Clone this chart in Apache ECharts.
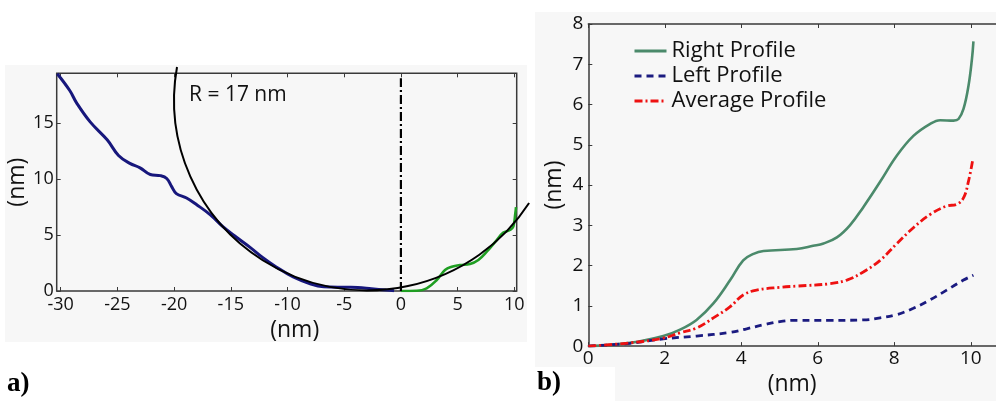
<!DOCTYPE html>
<html>
<head>
<meta charset="utf-8">
<script src="https://cdn.jsdelivr.net/npm/echarts@6/dist/echarts.min.js"></script>
<style>
  html, body { margin: 0; padding: 0; background: #ffffff; }
  #chart { width: 996px; height: 401px; }
</style>
</head>
<body>
<div id="chart"></div>
<script>
// ---- Panel a: tip cross-section, both flanks (nm) ----
const tipLeftA = [
  [-30.3, 19.4], [-29.2, 17.9], [-28.6, 16.8], [-27.4, 15.1], [-25.9, 13.5],
  [-24.9, 12.1], [-23.9, 11.4], [-23.0, 11.0], [-22.1, 10.4], [-21.2, 10.3],
  [-20.65, 10.05], [-20.2, 9.3], [-19.8, 8.7], [-18.9, 8.3], [-18.0, 7.7],
  [-16.8, 6.8], [-15.7, 5.75], [-14.5, 4.8], [-13.3, 3.9], [-12.2, 3.0],
  [-11.0, 2.15], [-9.5, 1.25], [-8.0, 0.65], [-6.8, 0.38], [-5.0, 0.33],
  [-3.8, 0.32], [-2.6, 0.2], [-1.3, 0.08], [-0.6, 0.03]
];
const tipRightA = [
  [0, 0], [1.4, 0.02], [2.27, 0.24], [3.16, 0.98], [3.89, 1.88], [4.48, 2.17],
  [5.21, 2.32], [6.09, 2.41], [6.83, 2.77], [7.57, 3.51], [8.45, 4.55],
  [9.03, 5.21], [9.62, 5.45], [9.91, 5.74], [10.09, 6.94], [10.15, 7.5]
];
const apexLine = [[0, 0], [0, 19.0]];
const fitCenter = [-3.0, 17.05];
const fitRadius = 17;
const xTicksA = [-30, -25, -20, -15, -10, -5, 0, 5, 10];
const yTicksA = [0, 5, 10, 15];

// ---- Panel b: flank profiles measured from the apex (nm) ----
const profileNames = ['Right Profile', 'Left Profile', 'Average Profile'];
const rightProfile = [
  [0, 0], [1.09, 0.08], [1.96, 0.25], [2.4, 0.41], [2.83, 0.65], [3.27, 1.06],
  [3.71, 1.64], [4.05, 2.13], [4.32, 2.29], [4.58, 2.36], [5.45, 2.41],
  [5.88, 2.49], [6.15, 2.55], [6.5, 2.7], [6.84, 3.0], [7.19, 3.45],
  [7.63, 4.08], [8.06, 4.72], [8.5, 5.22], [8.94, 5.52], [9.2, 5.61],
  [9.55, 5.6], [9.68, 5.64], [9.81, 5.89], [9.94, 6.46], [10.03, 7.12], [10.07, 7.57]
];
const leftProfile = [
  [0, 0], [1.09, 0.07], [1.96, 0.18], [2.83, 0.25], [3.71, 0.34], [4.14, 0.43],
  [4.58, 0.53], [5.01, 0.61], [5.45, 0.64], [6.32, 0.64], [7.19, 0.65],
  [7.63, 0.7], [8.06, 0.78], [8.5, 0.94], [8.94, 1.15], [9.37, 1.39],
  [9.81, 1.64], [10.07, 1.76]
];
const averageProfile = [
  [0, 0], [1.09, 0.08], [1.96, 0.2], [2.4, 0.33], [2.83, 0.45], [3.27, 0.7],
  [3.71, 0.98], [4.05, 1.27], [4.4, 1.39], [5.01, 1.46], [5.45, 1.49],
  [6.32, 1.55], [6.76, 1.64], [7.19, 1.84], [7.63, 2.13], [8.06, 2.54],
  [8.5, 2.94], [8.94, 3.27], [9.37, 3.48], [9.63, 3.52], [9.81, 3.68],
  [9.94, 4.09], [10.05, 4.62]
];
const xTicksB = [0, 2, 4, 6, 8, 10];
const yTicksB = [0, 1, 2, 3, 4, 5, 6, 7, 8];

// ---- styling ----
const FONT = 'Open Sans';
const frameColor = '#3a3a3a';
const textColor = '#111111';
// visible part of the fitted circle (screen angles, radians)
const arcStart = 0.571;
const arcEnd = 3.316;
const SMOOTH = 0.4;

function tickAxis(gridIndex, position, min, max, ticks, withLabels, labelSize, labelMargin, showLine) {
  return {
    type: 'value',
    gridIndex: gridIndex,
    position: position,
    min: min,
    max: max,
    axisLine: { show: !!showLine, onZero: false, lineStyle: { color: frameColor, width: 1.5 } },
    splitLine: { show: false },
    axisTick: {
      show: true, inside: true, length: 4, customValues: ticks,
      lineStyle: { color: frameColor, width: 1 }
    },
    axisLabel: {
      show: withLabels, customValues: ticks, margin: labelMargin,
      fontFamily: FONT, fontSize: labelSize, color: textColor
    }
  };
}

const xA = tickAxis(0, 'bottom', -30.35, 10.21, xTicksA, true, 18, 5, false);
Object.assign(xA, {
  name: '(nm)', nameLocation: 'middle', nameGap: 26,
  nameTextStyle: { fontFamily: FONT, fontSize: 23, color: textColor, padding: [0, 0, 0, 16] }
});
const xAtop = tickAxis(0, 'top', -30.35, 10.21, xTicksA, false, 18, 5, false);
const yA = tickAxis(0, 'left', 0, 19.44, yTicksA, true, 18, 3, false);
Object.assign(yA, {
  name: '(nm)', nameLocation: 'middle', nameGap: 23,
  nameTextStyle: { fontFamily: FONT, fontSize: 23, color: textColor }
});
const yAright = tickAxis(0, 'right', 0, 19.44, yTicksA, false, 18, 3, false);

const xB = tickAxis(1, 'bottom', 0, 10.66, xTicksB, true, 19, 3, true);
Object.assign(xB, {
  name: '(nm)', nameLocation: 'middle', nameGap: 22,
  nameTextStyle: { fontFamily: FONT, fontSize: 23, color: textColor }
});
const xBtop = tickAxis(1, 'top', 0, 10.66, xTicksB, false, 19, 3, true);
const yB = tickAxis(1, 'left', 0, 8, yTicksB, true, 19, 5, true);
Object.assign(yB, {
  name: '(nm)', nameLocation: 'middle', nameGap: 22,
  nameTextStyle: { fontFamily: FONT, fontSize: 23, color: textColor }
});

const chart = echarts.init(document.getElementById('chart'), null, { renderer: 'canvas' });

chart.setOption({
  backgroundColor: '#ffffff',
  animation: false,
  grid: [
    { left: 56.7, top: 73.3, width: 460, height: 217.7, show: true,
      borderColor: frameColor, borderWidth: 1.5, backgroundColor: 'transparent' },
    { left: 588.3, top: 24, width: 407.7, height: 326, show: false }
  ],
  xAxis: [xA, xAtop, xB, xBtop],
  yAxis: [yA, yAright, yB],
  legend: {
    data: profileNames,
    orient: 'vertical',
    left: 633,
    top: 40,
    padding: 0,
    itemWidth: 32,
    itemHeight: 14,
    itemGap: 3,
    itemStyle: { opacity: 0 },
    lineStyle: { width: 3 },
    textStyle: { fontFamily: FONT, fontSize: 22, color: textColor, lineHeight: 22 }
  },
  graphic: [
    { type: 'rect', z: -100, shape: { x: 5, y: 65, width: 522, height: 277 },
      style: { fill: '#f7f7f7' }, silent: true },
    { type: 'rect', z: -100, shape: { x: 535, y: 12, width: 461, height: 389 },
      style: { fill: '#f7f7f7' }, silent: true },
    { type: 'rect', z: -99, shape: { x: 520, y: 367, width: 95, height: 34 },
      style: { fill: '#ffffff' }, silent: true },
    { type: 'text', left: 189, top: 85, z: 10,
      style: { text: 'R = ' + fitRadius + ' nm', font: '21px "' + FONT + '"', fill: textColor } },
    { type: 'text', left: 7, top: 371,
      style: { text: 'a)', font: 'bold 27px "Liberation Serif"', fill: '#000' } },
    { type: 'text', left: 537, top: 370,
      style: { text: 'b)', font: 'bold 27px "Liberation Serif"', fill: '#000' } }
  ],
  series: [
    { type: 'line', xAxisIndex: 0, yAxisIndex: 0, data: tipLeftA, symbol: 'none',
      smooth: SMOOTH, z: 2,
      lineStyle: { color: '#17177c', width: 3 } },
    { type: 'line', xAxisIndex: 0, yAxisIndex: 0, data: tipRightA, symbol: 'none',
      smooth: SMOOTH, z: 2,
      lineStyle: { color: '#1f9e22', width: 2.6 } },
    { type: 'custom', xAxisIndex: 0, yAxisIndex: 0, z: 4, clip: false, silent: true,
      data: [[fitCenter[0], fitCenter[1], fitRadius]],
      renderItem: function (params, api) {
        const c = api.coord([api.value(0), api.value(1)]);
        const s = api.size([api.value(2), api.value(2)]);
        return {
          type: 'arc',
          x: c[0], y: c[1], scaleX: s[0], scaleY: s[1],
          shape: { cx: 0, cy: 0, r: 1, startAngle: arcStart, endAngle: arcEnd, clockwise: true },
          style: { stroke: '#000000', lineWidth: 2, fill: 'none', strokeNoScale: true }
        };
      } },
    { type: 'line', xAxisIndex: 0, yAxisIndex: 0, data: apexLine, symbol: 'none', z: 5,
      lineStyle: { color: '#000000', width: 2.2, type: [9, 3, 2, 3] } },

    { name: profileNames[0], type: 'line', xAxisIndex: 2, yAxisIndex: 2, data: rightProfile,
      symbol: 'none', smooth: SMOOTH,
      itemStyle: { color: '#4b8a6b' }, lineStyle: { color: '#4b8a6b', width: 2.6 } },
    { name: profileNames[1], type: 'line', xAxisIndex: 2, yAxisIndex: 2, data: leftProfile,
      symbol: 'none', smooth: SMOOTH,
      itemStyle: { color: '#1b1b80' }, lineStyle: { color: '#1b1b80', width: 2.8, type: [7, 5] } },
    { name: profileNames[2], type: 'line', xAxisIndex: 2, yAxisIndex: 2, data: averageProfile,
      symbol: 'none', smooth: SMOOTH,
      itemStyle: { color: '#ee1111' }, lineStyle: { color: '#ee1111', width: 2.8, type: [8, 3, 2, 3] } }
  ]
});
</script>
</body>
</html>
